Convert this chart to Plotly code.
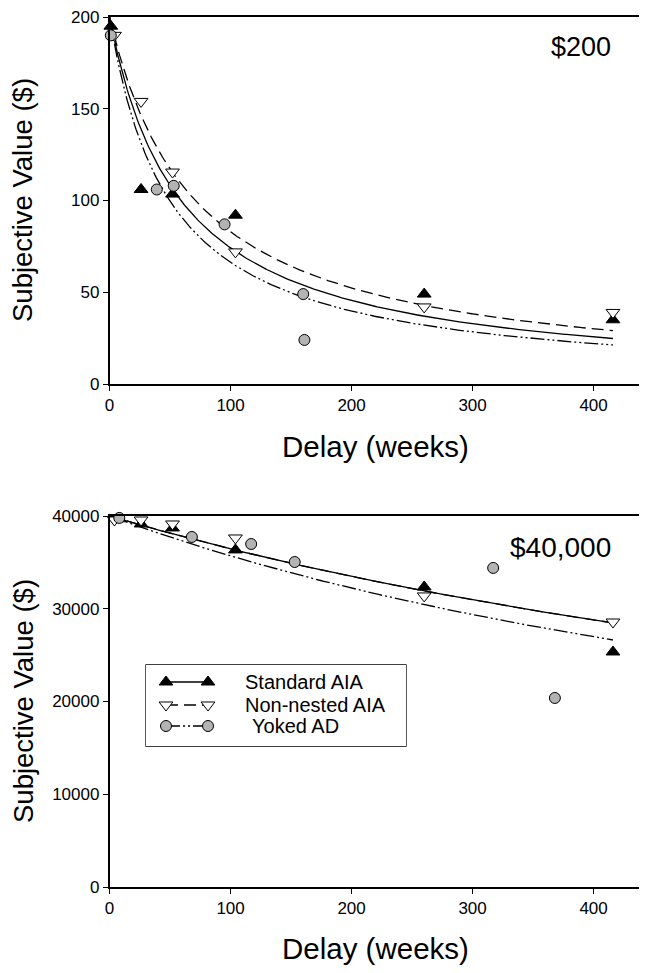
import numpy as np
import plotly.graph_objects as go

# ---------------- data ----------------
# $200 panel (delay in weeks, subjective value in $)
std200_x = [1, 26, 52, 104, 260, 416]
std200_y = [195, 106, 103.5, 92, 49, 35]
nn200_x = [4, 26, 52, 104, 260, 416]
nn200_y = [190, 154, 115.5, 72, 42, 39]
yk200_x = [1, 39, 53, 95, 160, 161]
yk200_y = [190, 106, 108, 87, 49, 24]

# $40,000 panel
std40k_x = [8, 26, 52, 104, 260, 416]
std40k_y = [39700, 39140, 38710, 36340, 32350, 25340]
nn40k_x = [4, 26, 52, 104, 260, 416]
nn40k_y = [39570, 39570, 39140, 37630, 31380, 28570]
yk40k_x = [8, 68, 117, 153, 317, 368]
yk40k_y = [39790, 37740, 36980, 35040, 34400, 20380]

# hyperbolic fits V = A / (1 + k D)
amount_200 = 200
k200 = {"std": 0.01698, "nn": 0.01412, "yk": 0.02017}
amount_40k = 40000
k40k = {"std": 0.000974, "nn": 0.000974, "yk": 0.001207}
fit_delay_max = 416

keys = ["std", "nn", "yk"]
names = {"std": "Standard AIA", "nn": "Non-nested AIA", "yk": " Yoked AD"}

# ---------------- styles ----------------
FONT = "Liberation Sans, Arial, sans-serif"
line_dash = {"std": "solid", "nn": "12px,6px", "yk": "14px,3px,2px,3px,2px,3px"}
marker_style = {
    "std": dict(symbol="triangle-up", size=12, color="black", line=dict(color="black", width=1)),
    "nn": dict(symbol="triangle-down", size=12, color="white", line=dict(color="black", width=1)),
    "yk": dict(symbol="circle", size=11, color="#b3b3b3", line=dict(color="black", width=1)),
}

W, H = 647, 973
OFF = 8  # page body margin


def fx(px):
    return (px - OFF) / W


def fy(py):
    return 1 - (py - OFF) / H


fig = go.Figure()
D = np.linspace(0, fit_delay_max, 400)


def add_panel(amount, kdict, pts, xa, ya):
    for key in ["nn", "yk", "std"]:
        fig.add_trace(go.Scatter(
            x=D, y=amount / (1 + kdict[key] * D), mode="lines",
            line=dict(color="black", width=1.3, dash=line_dash[key]),
            xaxis=xa, yaxis=ya, showlegend=False, hoverinfo="skip"))
    for key in keys:
        px, py = pts[key]
        fig.add_trace(go.Scatter(
            x=px, y=py, mode="markers", marker=marker_style[key],
            xaxis=xa, yaxis=ya, showlegend=False, cliponaxis=False,
            name=names[key].strip()))


add_panel(amount_200, k200,
          {"std": (std200_x, std200_y), "nn": (nn200_x, nn200_y), "yk": (yk200_x, yk200_y)},
          "x", "y")
add_panel(amount_40k, k40k,
          {"std": (std40k_x, std40k_y), "nn": (nn40k_x, nn40k_y), "yk": (yk40k_x, yk40k_y)},
          "x2", "y2")

# ---------------- key (legend box) ----------------
# legend key drawn in its own small axis: x in px from box left, y in px from box top
LEG_L, LEG_R, LEG_T, LEG_B = 146, 406, 665, 746
leg_rows = [17, 40, 61]
leg_sample_x = [20, 62]
leg_text_x = 97

for i, key in enumerate(keys):
    fig.add_trace(go.Scatter(
        x=leg_sample_x, y=[leg_rows[i]] * 2, mode="lines+markers",
        line=dict(color="black", width=1.3, dash=line_dash[key]),
        marker=marker_style[key], xaxis="x3", yaxis="y3",
        showlegend=False, hoverinfo="skip", cliponaxis=False))

x_dom = [fx(109.6), fx(642)]
top_dom = [fy(384), fy(17)]
bot_dom = [fy(887), fy(516)]

axis_common = dict(
    showline=True, linecolor="black", linewidth=1.5, mirror=True,
    ticks="outside", ticklen=5, tickwidth=1.2, tickcolor="black",
    showgrid=False, zeroline=False, automargin=False,
    ticklabeloverflow="allow",
    tickfont=dict(family=FONT, size=17, color="black"),
)

title_font = dict(family=FONT, size=27.5, color="black")
xcenter = fx((109.6 + 642) / 2)

annotations = [
    dict(text="$200", xref="paper", yref="paper", x=fx(613), y=fy(47),
         xanchor="right", yanchor="middle", showarrow=False,
         font=dict(family=FONT, size=27, color="black")),
    dict(text="$40,000", xref="paper", yref="paper", x=fx(613), y=fy(547),
         xanchor="right", yanchor="middle", showarrow=False,
         font=dict(family=FONT, size=28, color="black")),
    dict(text="Delay (weeks)", xref="paper", yref="paper", x=xcenter, y=fy(447),
         xanchor="center", yanchor="middle", showarrow=False,
         font=dict(family=FONT, size=29.5, color="black")),
    dict(text="Delay (weeks)", xref="paper", yref="paper", x=xcenter, y=fy(948),
         xanchor="center", yanchor="middle", showarrow=False,
         font=dict(family=FONT, size=29.5, color="black")),
    dict(text="Subjective Value ($)", xref="paper", yref="paper", x=fx(23), y=fy(200),
         xanchor="center", yanchor="middle", textangle=-90, showarrow=False,
         font=title_font),
    dict(text="Subjective Value ($)", xref="paper", yref="paper", x=fx(23), y=fy(701),
         xanchor="center", yanchor="middle", textangle=-90, showarrow=False,
         font=title_font),
]
for i, key in enumerate(keys):
    annotations.append(dict(
        text=names[key].strip(), xref="x3", yref="y3",
        x=leg_text_x + (7 if names[key].startswith(" ") else 0), y=leg_rows[i],
        xanchor="left", yanchor="middle", showarrow=False,
        font=dict(family=FONT, size=20, color="black")))

fig.update_layout(
    width=W, height=H,
    margin=dict(l=0, r=0, t=0, b=0),
    paper_bgcolor="white", plot_bgcolor="white",
    font=dict(family=FONT, color="black"),
    showlegend=False,
    xaxis=dict(domain=x_dom, range=[0, 440], tickvals=[0, 100, 200, 300, 400],
               anchor="y", **axis_common),
    yaxis=dict(domain=top_dom, range=[0, 200], tickvals=[0, 50, 100, 150, 200],
               anchor="x", **axis_common),
    xaxis2=dict(domain=x_dom, range=[0, 440], tickvals=[0, 100, 200, 300, 400],
                anchor="y2", **axis_common),
    yaxis2=dict(domain=bot_dom, range=[0, 40000], tickvals=[0, 10000, 20000, 30000, 40000],
                tickformat="d", anchor="x2", **axis_common),
    xaxis3=dict(domain=[fx(LEG_L), fx(LEG_R)], range=[0, LEG_R - LEG_L], visible=False,
                anchor="y3", fixedrange=True),
    yaxis3=dict(domain=[fy(LEG_B), fy(LEG_T)], range=[LEG_B - LEG_T, 0], visible=False,
                anchor="x3", fixedrange=True),
    shapes=[dict(type="rect", xref="paper", yref="paper",
                 x0=fx(LEG_L), x1=fx(LEG_R), y0=fy(LEG_B), y1=fy(LEG_T),
                 line=dict(color="black", width=1.3), fillcolor="white", layer="below")],
    annotations=annotations,
)

fig.write_html("out.html")
